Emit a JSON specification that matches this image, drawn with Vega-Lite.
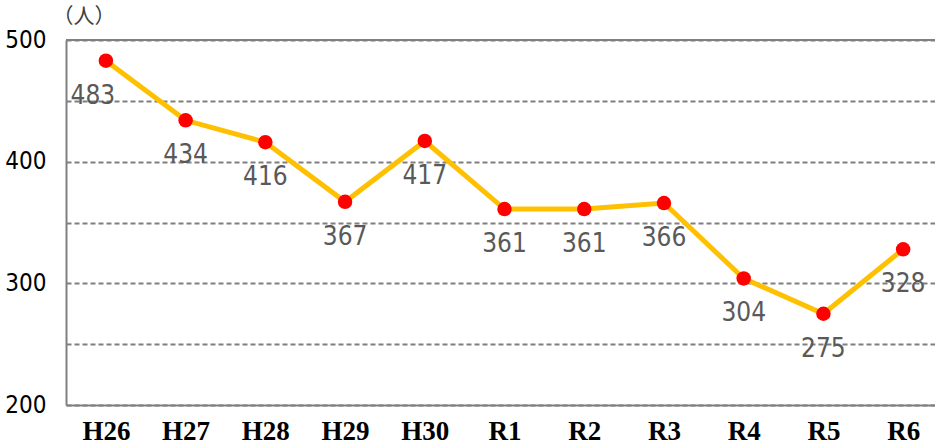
{
  "$schema": "https://vega.github.io/schema/vega-lite/v6.json",
  "autosize": {"type": "none"},
  "width": 869,
  "height": 365,
  "padding": {"left": 66, "top": 40, "right": 0, "bottom": 42},
  "background": "white",
  "config": {"view": {"stroke": null}},
  "data": {"values": [
    {"year": "H26", "count": 483},
    {"year": "H27", "count": 434},
    {"year": "H28", "count": 416},
    {"year": "H29", "count": 367},
    {"year": "H30", "count": 417},
    {"year": "R1", "count": 361},
    {"year": "R2", "count": 361},
    {"year": "R3", "count": 366},
    {"year": "R4", "count": 304},
    {"year": "R5", "count": 275},
    {"year": "R6", "count": 328}
  ]},
  "encoding": {
    "x": {"field": "year", "type": "ordinal", "sort": null,
      "scale": {"type": "point", "padding": 0.45, "align": 0.556},
      "axis": {"title": null, "labelAngle": 0, "domain": true, "domainColor": "#808080", "domainWidth": 2,
        "ticks": false, "grid": false, "labelFont": "Liberation Serif", "labelFontWeight": "bold",
        "labelFontSize": 27, "labelColor": "#000000", "labelPadding": 13}},
    "y": {"field": "count", "type": "quantitative",
      "scale": {"domain": [200, 500], "nice": false, "zero": false},
      "axis": {"values": [200, 250, 300, 350, 400, 450, 500], "labelExpr": "datum.value % 100 == 0 ? datum.label : ''",
        "title": "（人）", "titleAngle": 0, "titleAlign": "left", "titleBaseline": "top", "titleX": -14, "titleY": -35,
        "titleFont": "Noto Sans CJK JP", "titleFontSize": 21, "titleFontWeight": "normal", "titleColor": "#404040",
        "domain": true, "domainColor": "#808080", "domainWidth": 2, "ticks": false,
        "grid": true, "gridColor": "#7f7f7f", "gridDash": [5, 3], "gridWidth": 1.8,
        "labelFont": "DejaVu Sans Condensed, Roboto Condensed, Liberation Sans Narrow, sans-serif", "labelFontSize": 24, "labelColor": "#000000", "labelPadding": 20}}
  },
  "layer": [
    {"mark": {"type": "rule", "color": "#808080", "strokeWidth": 2},
     "encoding": {"x": null, "y": {"datum": 500}}},
    {"mark": {"type": "line", "color": "#FFC000", "strokeWidth": 5}},
    {"mark": {"type": "point", "filled": true, "color": "#FF0000", "size": 210, "opacity": 1}},
    {"transform": [{"filter": "datum.year != 'H26'"}],
     "mark": {"type": "text", "font": "DejaVu Sans Condensed, Roboto Condensed, Liberation Sans Narrow, sans-serif", "fontSize": 26, "color": "#595959", "baseline": "middle", "dy": 35},
     "encoding": {"text": {"field": "count", "type": "quantitative"}}},
    {"transform": [{"filter": "datum.year == 'H26'"}],
     "mark": {"type": "text", "font": "DejaVu Sans Condensed, Roboto Condensed, Liberation Sans Narrow, sans-serif", "fontSize": 26, "color": "#595959", "baseline": "middle", "dy": 35, "dx": -13},
     "encoding": {"text": {"field": "count", "type": "quantitative"}}}
  ]
}
